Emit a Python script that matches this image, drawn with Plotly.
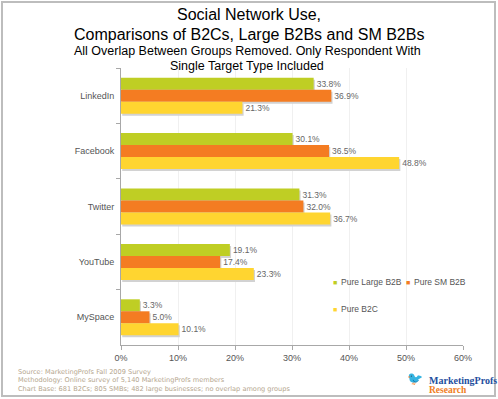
import plotly.graph_objects as go

categories = ["LinkedIn", "Facebook", "Twitter", "YouTube", "MySpace"]
large_b2b = [33.8, 30.1, 31.3, 19.1, 3.3]
sm_b2b = [36.9, 36.5, 32.0, 17.4, 5.0]
b2c = [21.3, 48.8, 36.7, 23.3, 10.1]
series_names = ["Pure Large B2B", "Pure SM B2B", "Pure B2C"]
colors = ["#BFCE24", "#F47C22", "#FFD530"]
x_ticks = [0, 10, 20, 30, 40, 50, 60]
x_tick_labels = ["0%", "10%", "20%", "30%", "40%", "50%", "60%"]

W, H = 498, 399
L, R, T, B = 121, 35, 68, 54
PW, PH = W - L - R, H - T - B

def px(x):
    return (x - L) / PW

def py(y):
    return (H - B - y) / PH

BAR_W = 0.65 / 3
SHADOW_DY = 2 / (PH / 5)      # category units per 2px
SHADOW_DX = 1.2 * 60 / PW      # data units per ~1px

fig = go.Figure()
all_vals = [large_b2b, sm_b2b, b2c]
# shadows first
for i, vals in enumerate(all_vals):
    fig.add_trace(go.Bar(
        y=categories, x=vals, orientation="h", base=SHADOW_DX,
        width=BAR_W, offset=-0.325 + i * BAR_W + SHADOW_DY,
        marker=dict(color="#D2D2D2", line=dict(width=0)),
        hoverinfo="skip", showlegend=False,
    ))
for i, (name, vals, col) in enumerate(zip(series_names, all_vals, colors)):
    fig.add_trace(go.Bar(
        y=categories, x=vals, name=name, orientation="h",
        width=BAR_W, offset=-0.325 + i * BAR_W,
        marker=dict(color=col, line=dict(width=0)),
        text=[f"{v:.1f}%" for v in vals], textposition="outside",
        textfont=dict(family="Liberation Sans, Arial", size=8.5, color="#666666"),
        cliponaxis=False, showlegend=False,
    ))

annotations = []

def txt(text, x, y, size, color, xanchor="center", family="Liberation Sans, Arial"):
    annotations.append(dict(text=text, x=px(x), y=py(y), xref="paper", yref="paper",
                            showarrow=False, xanchor=xanchor, yanchor="middle",
                            font=dict(family=family, size=size, color=color)))

# Titles
txt("Social Network Use,", 249, 15, 16, "#000000")
txt("Comparisons of B2Cs, Large B2Bs and SM B2Bs", 249, 34, 16, "#000000")
txt("All Overlap Between Groups Removed. Only Respondent With", 247, 51, 12.5, "#000000")
txt("Single Target Type Included", 247, 66, 12.5, "#000000")

# Legend (manual)
leg = [(series_names[0], colors[0], 335, 282), (series_names[1], colors[1], 408, 282), (series_names[2], colors[2], 335, 309)]
for name, col, lx, ly in leg:
    txt("■", lx, ly, 7, col)
    txt(name, lx + 4, ly, 8.5, "#555555", xanchor="left")

# Source notes
notes = ["Source: MarketingProfs Fall 2009 Survey",
         "Methodology: Online survey of 5,140 MarketingProfs members",
         "Chart Base: 681 B2Cs; 805 SMBs; 482 large businesses; no overlap among groups"]
for i, n in enumerate(notes):
    txt(n, 16, 372 + i * 8.3, 6.6, "#B5A68E", xanchor="left", family="DejaVu Sans")

# Logo text
txt("<b>MarketingProfs</b>", 427, 380, 10, "#1F4F9E", xanchor="left", family="Liberation Serif, DejaVu Serif")
txt("<b>Research</b>", 427, 390, 9.5, "#F07D22", xanchor="left", family="Liberation Serif, DejaVu Serif")
txt("🐦", 415, 378, 13, "#2A6FC0")

shapes = [dict(type="rect", xref="paper", yref="paper", x0=px(2), x1=px(495), y0=py(396), y1=py(2),
               line=dict(color="#BDBDBD", width=2), fillcolor="rgba(0,0,0,0)", layer="below")]

fig.update_layout(
    width=W, height=H,
    margin=dict(l=L, r=R, t=T, b=B),
    paper_bgcolor="white", plot_bgcolor="white",
    barmode="overlay",
    annotations=annotations, shapes=shapes,
    font=dict(family="Liberation Sans, Arial", color="#555555"),
    xaxis=dict(range=[0, 60], tickvals=x_ticks, ticktext=x_tick_labels,
               showgrid=True, gridcolor="#F0F0F0", gridwidth=1, zeroline=False,
               showline=True, linecolor="#A8A8A8", linewidth=1,
               ticks="outside", ticklen=4, tickcolor="#A8A8A8",
               tickfont=dict(size=9, color="#555555")),
    yaxis=dict(autorange="reversed", showline=True, linecolor="#A8A8A8", linewidth=1,
               ticks="outside", ticklen=4, tickcolor="#A8A8A8", tickson="boundaries",
               showgrid=False, tickfont=dict(size=9, color="#555555"), ticklabelstandoff=4),
    showlegend=False,
)

fig.write_html("out.html", config={"displayModeBar": False},
               post_script="document.body.style.margin='0';document.body.style.padding='0';")
